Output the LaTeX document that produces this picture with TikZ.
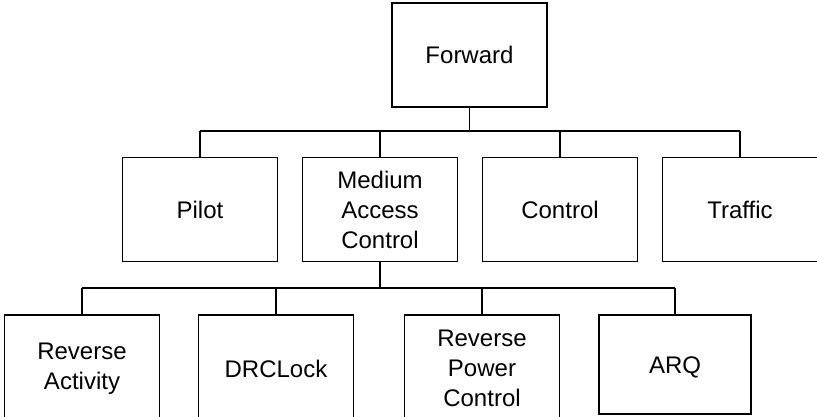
\documentclass[tikz,border=0pt]{standalone}
\usepackage{fontspec}
\setmainfont{Liberation Sans}
\begin{document}
\begin{tikzpicture}[x=1pt,y=-1pt,
  box/.style={draw=black,line width=1.9pt,minimum width=155pt,minimum height=104pt,inner sep=0pt,align=center,font=\fontsize{24}{30}\selectfont},
  link/.style={draw=black,line width=1.9pt}]
\useasboundingbox (0,0) rectangle (817,417);
\clip (0,0) rectangle (817,417);
\node[box] (fwd) at (469.5,55) {Forward};
\node[box] (pilot) at (200,209.5) {Pilot};
\node[box] (mac) at (380,209.5) {Medium\\Access\\Control};
\node[box] (ctrl) at (560,209.5) {Control};
\node[box] (traffic) at (740,209.5) {Traffic};
\node[box,minimum height=107pt] (ra) at (82,368.5) {Reverse\\Activity};
\node[box,minimum height=107pt] (drc) at (276,368.5) {DRCLock};
\node[box,minimum height=107pt] (rpc) at (482,368.5) {Reverse\\Power\\Control};
\node[box,minimum height=99pt,minimum width=152pt] (arq) at (675,364.5) {\rule{0pt}{23pt}ARQ};
\coordinate (bus1) at (0,131);
\coordinate (bus2) at (0,288);
\draw[link] (fwd.south) -- (fwd.south |- bus1);
\draw[link] (pilot.north |- bus1) -- (traffic.north |- bus1);
\foreach \n in {pilot,mac,ctrl,traffic}{\draw[link] (\n.north) -- (\n.north |- bus1);}
\draw[link] (mac.south) -- (mac.south |- bus2);
\draw[link] (ra.north |- bus2) -- (arq.north |- bus2);
\foreach \n in {ra,drc,rpc,arq}{\draw[link] (\n.north) -- (\n.north |- bus2);}
\end{tikzpicture}
\end{document}
